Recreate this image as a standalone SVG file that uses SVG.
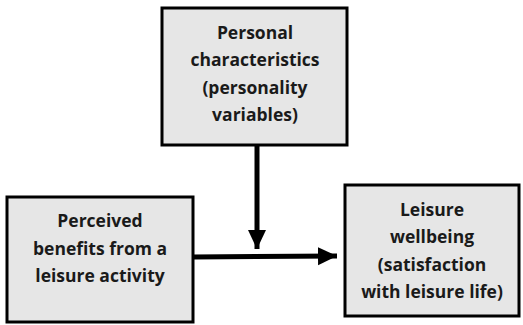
<svg xmlns="http://www.w3.org/2000/svg" width="523" height="325" viewBox="0 0 523 325">
<style>
.box{fill:#e6e6e6;stroke:#000;stroke-width:3}
.t{font-family:"Open Sans","Liberation Sans",sans-serif;font-weight:bold;font-size:17.5px;fill:#1a1a1a;text-anchor:middle}
.c{stroke:#000;stroke-width:5;fill:none}
</style>
<defs>
<marker id="ah" markerUnits="userSpaceOnUse" markerWidth="20" markerHeight="20" refX="19" refY="10" orient="auto">
<path d="M0,1 L19,10 L0,19 Z" fill="#000"/>
</marker>
</defs>
<rect width="523" height="325" fill="#fff"/>
<g id="personal">
<rect class="box" x="162" y="8" width="185" height="137"/>
<text class="t" x="255" y="39">Personal</text>
<text class="t" x="255" y="66">characteristics</text>
<text class="t" x="255" y="94">(personality</text>
<text class="t" x="255" y="121">variables)</text>
</g>
<g id="benefits">
<rect class="box" x="7" y="197" width="186" height="125"/>
<text class="t" x="100" y="227">Perceived</text>
<text class="t" x="100" y="255">benefits from a</text>
<text class="t" x="100" y="282">leisure activity</text>
</g>
<g id="wellbeing">
<rect class="box" x="345" y="185" width="174" height="131"/>
<text class="t" x="432" y="216">Leisure</text>
<text class="t" x="432" y="243">wellbeing</text>
<text class="t" x="432" y="271">(satisfaction</text>
<text class="t" x="432" y="298">with leisure life)</text>
</g>
<g id="connectors">
<line class="c" x1="257" y1="145" x2="257" y2="249" marker-end="url(#ah)"/>
<line class="c" x1="193" y1="257" x2="337" y2="256" marker-end="url(#ah)"/>
</g>
</svg>
